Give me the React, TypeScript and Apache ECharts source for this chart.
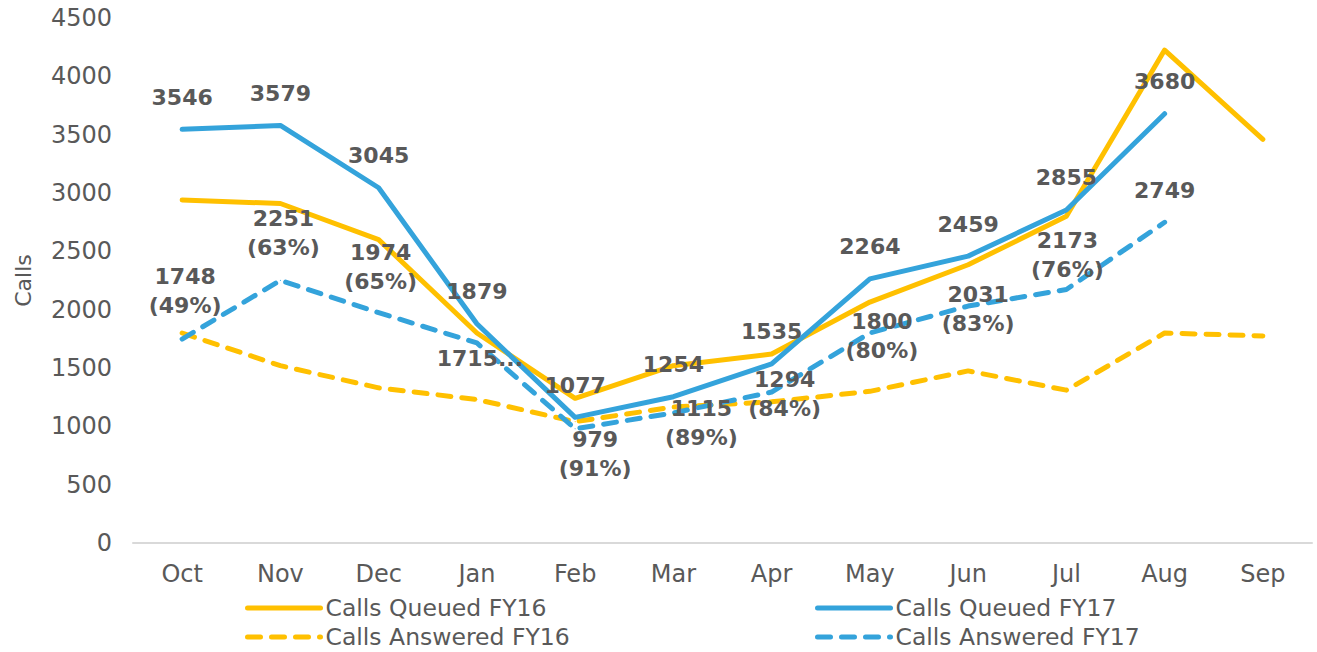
import React, { useEffect, useRef } from "react";
import * as echarts from "echarts";

const months = ["Oct", "Nov", "Dec", "Jan", "Feb", "Mar", "Apr", "May", "Jun", "Jul", "Aug", "Sep"];
const queuedFY16 = [2940, 2910, 2600, 1800, 1240, 1520, 1620, 2065, 2385, 2800, 4225, 3460];
const answeredFY16 = [1800, 1520, 1330, 1230, 1040, 1165, 1210, 1300, 1475, 1310, 1800, 1775];
const queuedFY17 = [3546, 3579, 3045, 1879, 1077, 1254, 1535, 2264, 2459, 2855, 3680];
const answeredFY17 = [1748, 2251, 1974, 1715, 979, 1115, 1294, 1800, 2031, 2173, 2749];
const answeredFY17Labels = [
  "1748\n(49%)", "2251\n(63%)", "1974\n(65%)", "1715...", "979\n(91%)", "1115\n(89%)",
  "1294\n(84%)", "1800\n(80%)", "2031\n(83%)", "2173\n(76%)", "2749",
];
const yTicks = { min: 0, max: 4500, interval: 500 };

// label placement (pixel offsets from each point)
const answeredLabelOffsets = [
  [3, -48], [3, -47], [2, -46], [3, 16], [20, 25], [28, 10],
  [13, 2], [12, 3], [10, 3], [1, -34], [0, -32],
];

const YELLOW = "#FFC000";
const BLUE = "#34A3DB";
const TEXT = "#595959";
const FONT = "DejaVu Sans";

export default function App() {
  const ref = useRef<HTMLDivElement>(null);
  useEffect(() => {
    document.body.style.margin = "0";
    if (!ref.current) return;
    const chart = echarts.init(ref.current, undefined, { renderer: "svg" });
    const labelBase = {
      show: true,
      position: "inside",
      color: TEXT,
      fontFamily: FONT,
      fontWeight: "bold",
      fontSize: 22,
      lineHeight: 29,
    };
    const legendBase = {
      orient: "vertical",
      top: 595,
      padding: 0,
      itemGap: 3,
      itemWidth: 73,
      itemHeight: 14,
      itemStyle: { opacity: 0 },
      lineStyle: { width: 5, cap: "round" },
      textStyle: { color: TEXT, fontFamily: FONT, fontSize: 23.5, lineHeight: 26 },
    };
    chart.setOption({
      animation: false,
      grid: { left: 133, right: 5, top: 18, bottom: 109, containLabel: false, outerBoundsMode: "none" },
      xAxis: {
        type: "category",
        data: months,
        boundaryGap: true,
        axisLine: { show: true, lineStyle: { color: "#D9D9D9", width: 2 } },
        axisTick: { show: false },
        axisLabel: { color: TEXT, fontFamily: FONT, fontSize: 24, margin: 19 },
        splitLine: { show: false },
      },
      yAxis: {
        type: "value",
        min: yTicks.min,
        max: yTicks.max,
        interval: yTicks.interval,
        name: "Calls",
        nameLocation: "middle",
        nameGap: 99,
        nameTextStyle: { color: TEXT, fontFamily: FONT, fontSize: 22 },
        axisLine: { show: false },
        axisTick: { show: false },
        splitLine: { show: false },
        axisLabel: {
          color: TEXT,
          fontFamily: FONT,
          fontSize: 24,
          margin: 21,
          formatter: (v: number) => String(v),
        },
      },
      legend: [
        { ...legendBase, left: 245, data: ["Calls Queued FY16", "Calls Answered FY16"] },
        { ...legendBase, left: 815, data: ["Calls Queued FY17", "Calls Answered FY17"] },
      ],
      series: [
        {
          name: "Calls Queued FY16",
          type: "line",
          data: queuedFY16,
          symbol: "circle",
          symbolSize: 1,
          itemStyle: { color: YELLOW },
          lineStyle: { color: YELLOW, width: 5, cap: "round", join: "round" },
          label: { show: false },
        },
        {
          name: "Calls Answered FY16",
          type: "line",
          data: answeredFY16,
          symbol: "circle",
          symbolSize: 1,
          itemStyle: { color: YELLOW },
          lineStyle: { color: YELLOW, width: 5, type: [13, 11], cap: "round", join: "round" },
          label: { show: false },
        },
        {
          name: "Calls Queued FY17",
          type: "line",
          data: queuedFY17,
          symbol: "circle",
          symbolSize: 1,
          itemStyle: { color: BLUE },
          lineStyle: { color: BLUE, width: 5, cap: "round", join: "round" },
          label: { ...labelBase, offset: [0, -32] },
        },
        {
          name: "Calls Answered FY17",
          type: "line",
          data: answeredFY17.map((v, i) => ({
            value: v,
            label: { offset: answeredLabelOffsets[i] },
          })),
          symbol: "circle",
          symbolSize: 1,
          itemStyle: { color: BLUE },
          lineStyle: { color: BLUE, width: 5, type: [13, 11], cap: "round", join: "round" },
          label: {
            ...labelBase,
            formatter: (p: any) => answeredFY17Labels[p.dataIndex],
          },
        },
      ],
    });
    return () => chart.dispose();
  }, []);
  return <div ref={ref} style={{ width: 1317, height: 652 }} />;
}
